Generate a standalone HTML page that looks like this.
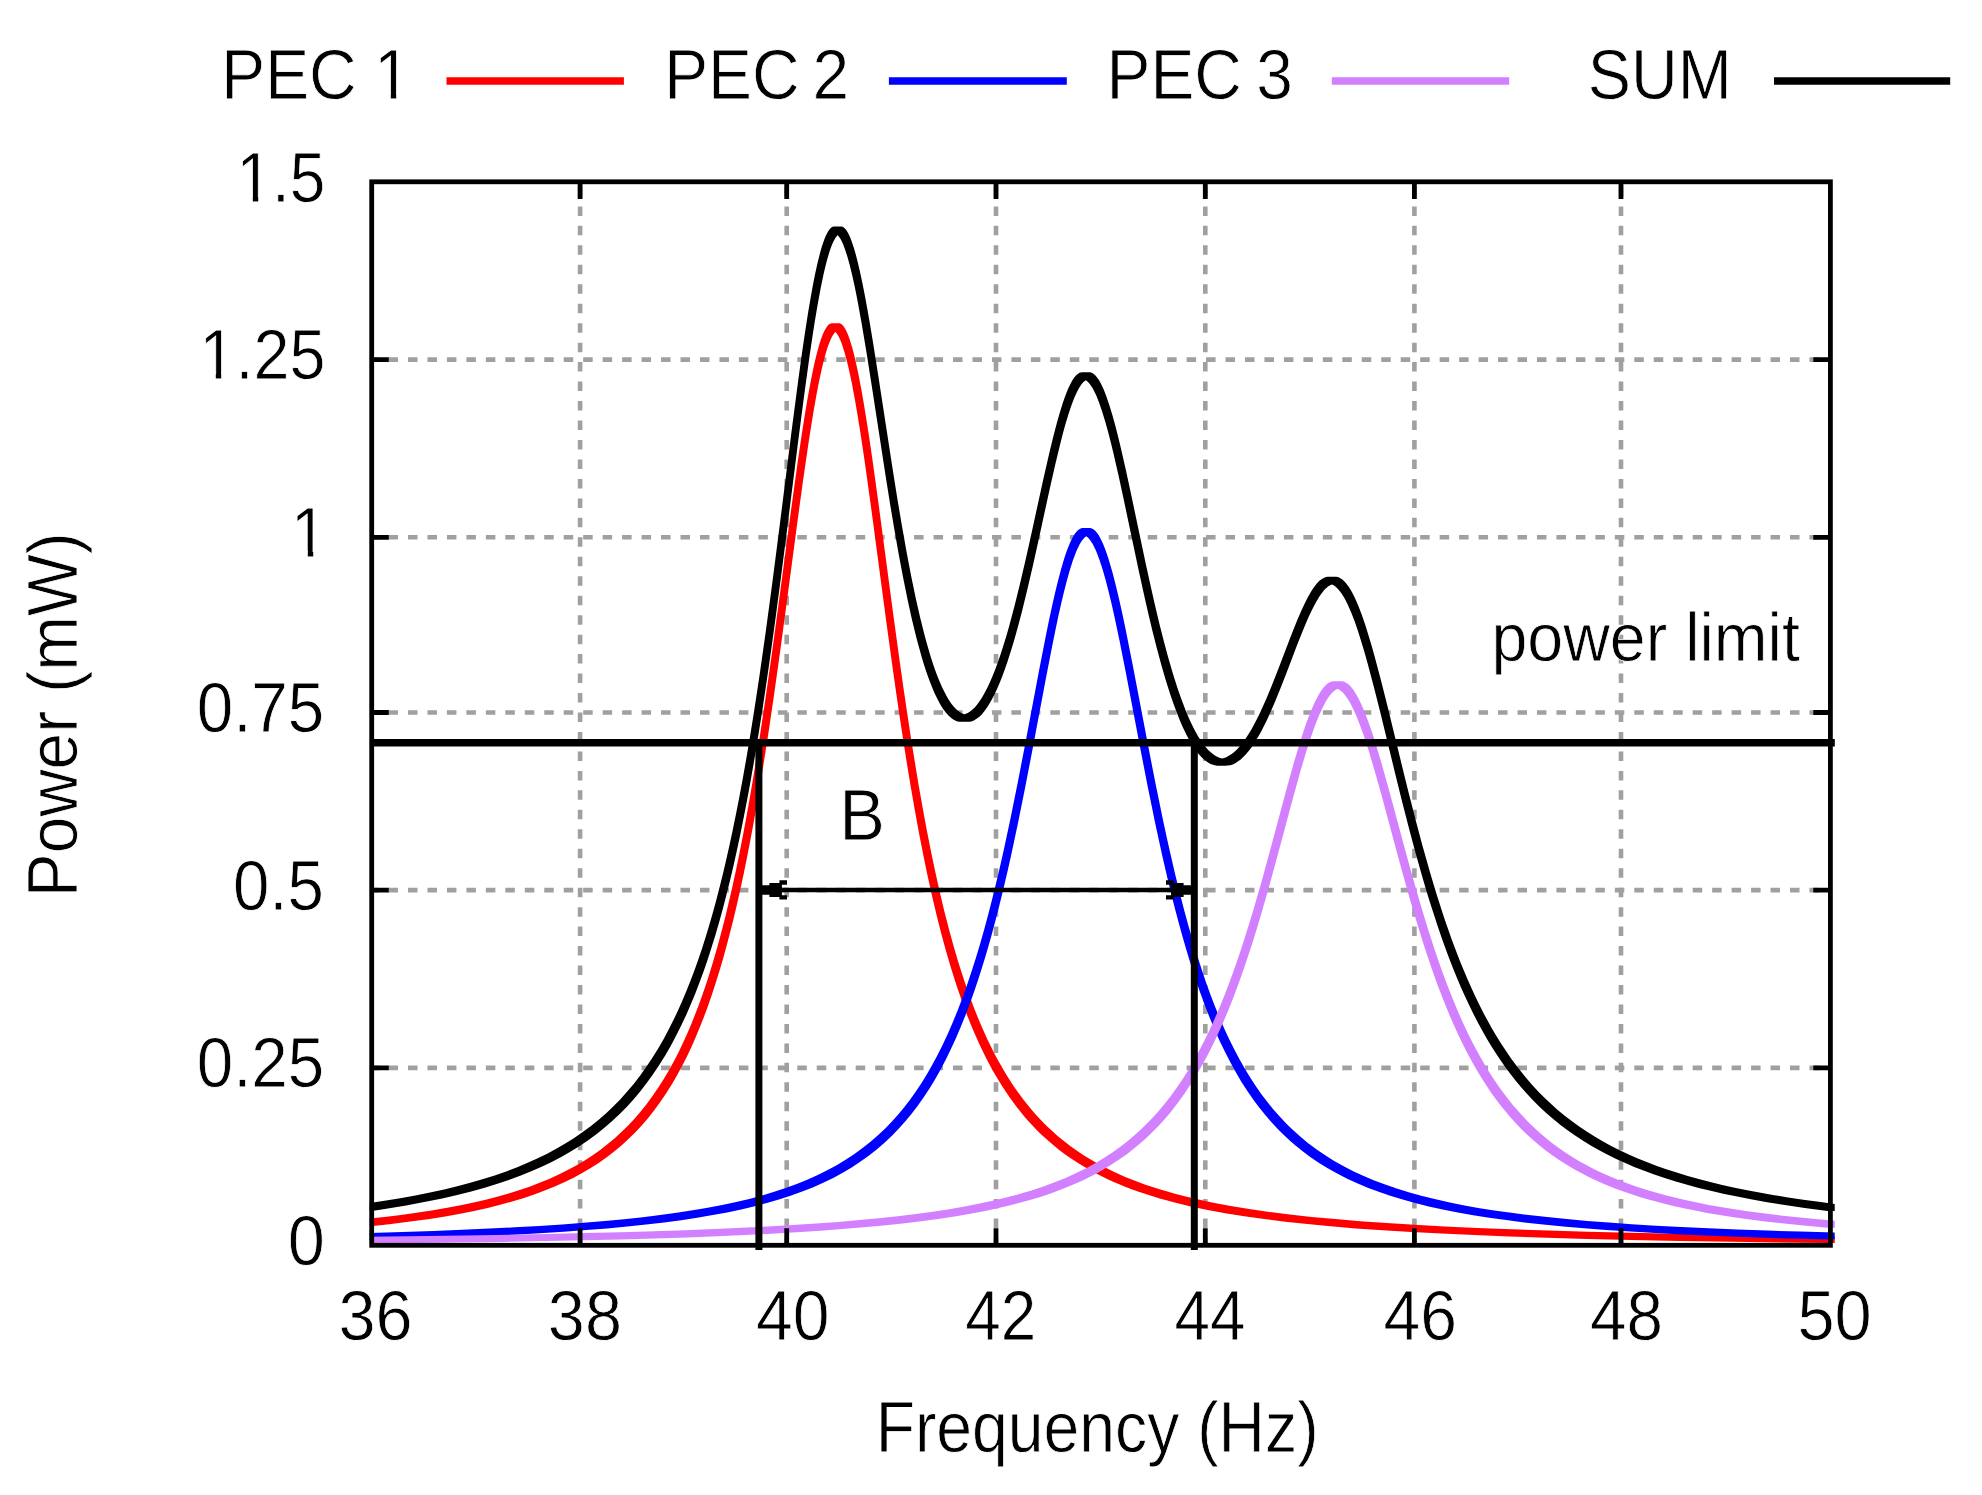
<!DOCTYPE html>
<html><head><meta charset="utf-8"><title>Power vs Frequency</title>
<style>html,body{margin:0;padding:0;background:#fff}body{width:1982px;height:1495px;overflow:hidden}</style></head>
<body>
<svg width="1982" height="1495" viewBox="0 0 1982 1495" style="display:block">
<rect x="0" y="0" width="1982" height="1495" fill="#fff"/>
<g stroke="#a0a0a0" stroke-width="4.6" fill="none" stroke-dasharray="9.5 9.965">
<path d="M580.1 181.8V1245.3" stroke-dashoffset="14.330"/>
<path d="M786.7 181.8V1245.3" stroke-dashoffset="14.330"/>
<path d="M996.0 181.8V1245.3" stroke-dashoffset="14.330"/>
<path d="M1205.3 181.8V1245.3" stroke-dashoffset="14.330"/>
<path d="M1414.4 181.8V1245.3" stroke-dashoffset="14.330"/>
<path d="M1621.0 181.8V1245.3" stroke-dashoffset="14.330"/>
<path d="M371.7 1067.9H1830.4" stroke-dashoffset="2.630"/>
<path d="M371.7 890.1H1830.4" stroke-dashoffset="2.630"/>
<path d="M371.7 712.5H1830.4" stroke-dashoffset="2.630"/>
<path d="M371.7 537.3H1830.4" stroke-dashoffset="2.630"/>
<path d="M371.7 359.6H1830.4" stroke-dashoffset="2.630"/>
</g>
<path d="M369.7 1218.6L386.7 1216.7L402.7 1214.7L418.2 1212.5L433.2 1210.2L447.2 1207.8L460.7 1205.2L473.7 1202.5L485.7 1199.7L497.2 1196.7L508.7 1193.5L519.7 1190.0L530.2 1186.4L540.2 1182.6L549.7 1178.7L558.7 1174.6L567.7 1170.1L576.2 1165.5L584.7 1160.4L592.7 1155.2L600.2 1149.9L607.7 1144.1L614.7 1138.2L621.7 1131.8L628.2 1125.4L634.7 1118.4L640.7 1111.5L646.7 1104.0L652.7 1095.8L658.7 1087.0L664.2 1078.3L669.7 1068.9L674.7 1059.7L678.7 1051.9L682.7 1043.6L686.7 1034.8L690.7 1025.5L694.7 1015.6L698.2 1006.5L702.2 995.5L705.7 985.2L709.2 974.5L712.7 963.1L716.2 951.1L719.2 940.3L722.7 927.1L725.7 915.2L729.2 900.6L732.2 887.5L735.7 871.4L739.2 854.5L742.7 836.7L745.7 820.7L749.2 801.2L752.2 783.8L755.7 762.6L759.2 740.5L765.2 700.6L771.7 654.8L777.7 610.6L791.2 509.0L797.7 461.9L801.2 438.0L804.2 418.7L807.2 400.6L810.2 383.9L813.7 366.6L815.7 357.9L817.2 351.9L819.2 344.8L820.7 340.0L822.7 334.6L824.2 331.2L825.7 328.4L827.2 326.2L828.7 324.6L829.7 323.9L830.7 323.4L831.7 323.2L838.7 323.2L839.7 323.3L840.2 323.5L841.2 324.0L842.7 325.3L844.2 327.2L845.2 328.8L846.7 331.8L848.2 335.3L849.7 339.5L852.2 347.6L853.7 353.2L855.2 359.4L858.2 373.1L861.2 388.7L863.7 402.9L866.2 418.2L869.2 437.6L872.2 458.0L878.2 501.2L892.7 610.2L899.7 661.4L903.7 689.5L907.2 713.3L910.7 736.3L914.2 758.3L918.7 785.4L922.7 808.1L926.7 829.7L931.2 852.5L935.2 871.6L939.7 891.8L944.2 910.7L948.7 928.3L953.7 946.5L958.7 963.4L964.2 980.6L969.7 996.4L975.2 1010.9L978.2 1018.4L981.2 1025.5L987.2 1038.9L993.2 1051.2L996.2 1056.9L999.7 1063.3L1002.7 1068.6L1006.2 1074.5L1009.7 1080.1L1013.2 1085.4L1016.7 1090.5L1020.2 1095.3L1023.7 1100.0L1027.7 1105.0L1031.2 1109.3L1035.2 1113.9L1039.2 1118.2L1043.2 1122.4L1047.2 1126.4L1051.7 1130.6L1056.2 1134.7L1060.7 1138.5L1065.2 1142.1L1070.2 1145.9L1075.2 1149.5L1080.2 1152.9L1085.2 1156.2L1090.7 1159.5L1096.2 1162.7L1101.7 1165.7L1107.2 1168.6L1113.2 1171.5L1119.2 1174.3L1125.2 1176.9L1131.7 1179.5L1138.2 1182.0L1144.7 1184.4L1151.7 1186.8L1158.7 1189.0L1165.7 1191.1L1173.2 1193.3L1180.7 1195.3L1196.2 1199.0L1213.2 1202.7L1230.7 1205.9L1249.2 1209.0L1269.2 1211.9L1289.7 1214.5L1311.7 1216.9L1335.2 1219.1L1360.2 1221.2L1386.7 1223.1L1414.7 1224.8L1444.7 1226.5L1477.2 1228.0L1511.7 1229.3L1548.2 1230.6L1587.7 1231.7L1630.2 1232.7L1675.7 1233.7L1724.7 1234.6L1777.7 1235.3L1834.7 1236.1L1834.7 1243.1L1827.7 1243.1L1800.2 1242.7L1732.2 1241.8L1679.7 1240.9L1630.7 1239.9L1587.2 1238.9L1546.7 1237.7L1509.2 1236.5L1474.2 1235.1L1441.7 1233.6L1411.2 1232.0L1382.7 1230.3L1355.7 1228.4L1330.7 1226.3L1307.2 1224.1L1285.2 1221.7L1264.2 1219.1L1244.2 1216.3L1225.2 1213.2L1207.7 1210.0L1190.7 1206.4L1174.7 1202.5L1167.2 1200.5L1159.7 1198.4L1152.7 1196.3L1145.7 1194.1L1138.7 1191.7L1132.2 1189.4L1125.7 1186.9L1119.2 1184.3L1113.2 1181.7L1107.2 1179.0L1101.2 1176.1L1095.7 1173.3L1090.2 1170.3L1084.7 1167.1L1079.2 1163.8L1074.2 1160.6L1069.2 1157.2L1064.2 1153.7L1059.2 1149.9L1054.7 1146.3L1049.7 1142.1L1045.2 1138.1L1040.7 1133.9L1036.7 1129.9L1032.7 1125.8L1028.7 1121.4L1024.7 1116.9L1020.7 1112.0L1016.7 1107.0L1013.2 1102.3L1009.2 1096.8L1005.7 1091.6L1002.2 1086.3L998.7 1080.6L995.2 1074.7L992.2 1069.4L988.7 1063.0L985.7 1057.2L982.2 1050.1L979.2 1043.8L973.2 1030.2L970.2 1022.9L967.2 1015.4L961.7 1000.6L956.2 984.6L950.7 967.1L945.7 950.0L940.7 931.5L936.2 913.6L931.7 894.4L927.2 874.0L923.2 854.6L918.7 831.4L914.7 809.6L910.7 786.5L906.7 762.2L903.2 740.0L899.7 717.0L896.2 693.1L892.2 664.8L885.7 617.2L871.7 511.9L865.7 468.5L862.7 447.9L860.2 431.5L857.7 415.9L855.2 401.3L852.2 385.1L849.7 373.0L847.2 362.2L844.7 352.9L842.2 345.0L840.7 341.1L839.7 338.8L838.2 335.8L837.2 334.2L835.7 332.3L835.2 332.1L834.2 333.2L832.7 335.4L831.7 337.2L830.2 340.4L829.2 342.9L827.7 347.0L826.2 351.8L824.7 357.0L822.2 367.0L819.2 380.7L816.7 393.6L813.7 410.5L811.2 425.7L808.7 441.7L803.2 479.5L797.7 519.7L785.7 610.2L780.2 650.9L774.2 693.8L768.7 731.2L762.2 772.7L756.2 808.2L753.2 825.0L750.2 841.1L747.2 856.5L743.7 873.7L740.2 890.0L736.7 905.5L733.2 920.2L729.7 934.1L726.2 947.3L722.7 959.9L719.2 971.8L715.2 984.6L711.7 995.2L707.7 1006.7L703.7 1017.5L699.7 1027.6L695.7 1037.2L691.2 1047.4L686.7 1056.9L682.2 1065.8L677.2 1075.0L671.7 1084.5L666.2 1093.3L660.2 1102.1L654.2 1110.3L648.2 1117.9L641.7 1125.4L635.2 1132.4L628.7 1138.8L621.7 1145.2L614.2 1151.5L606.7 1157.3L598.7 1162.9L590.7 1168.0L582.2 1173.1L573.2 1177.9L564.2 1182.3L554.7 1186.6L544.7 1190.6L534.2 1194.5L523.2 1198.2L512.2 1201.5L500.2 1204.8L487.7 1207.9L474.2 1210.9L460.2 1213.7L445.2 1216.4L429.7 1218.9L410.2 1221.6L389.2 1224.2L375.2 1225.7L369.7 1225.7Z" fill="#ff0000"/>
<path d="M369.7 1232.9L402.2 1231.9L433.2 1230.9L462.2 1229.8L489.2 1228.6L514.7 1227.3L539.2 1225.9L562.2 1224.4L583.7 1222.8L604.7 1221.0L624.2 1219.2L642.7 1217.2L660.2 1215.0L676.7 1212.8L692.7 1210.3L707.7 1207.8L722.2 1205.0L736.2 1202.0L749.2 1198.9L762.2 1195.4L774.2 1191.8L785.7 1188.1L796.7 1184.0L807.2 1179.8L817.2 1175.3L826.7 1170.6L836.2 1165.5L845.2 1160.1L853.7 1154.5L862.2 1148.3L870.2 1142.0L877.7 1135.5L885.2 1128.4L891.7 1121.7L898.2 1114.4L904.2 1107.2L910.2 1099.4L916.2 1091.0L921.7 1082.7L927.2 1073.7L932.7 1064.1L937.7 1054.8L942.7 1044.7L947.7 1034.0L952.7 1022.5L957.7 1010.2L962.2 998.4L966.7 985.9L971.2 972.6L975.7 958.5L979.7 945.2L983.7 931.2L987.7 916.5L991.7 901.0L995.7 884.8L999.7 867.9L1003.7 850.2L1010.7 817.5L1018.2 780.3L1025.2 744.0L1039.2 669.7L1045.7 636.4L1049.2 619.3L1052.2 605.4L1055.2 592.2L1057.7 581.9L1061.2 568.7L1064.2 558.6L1066.2 552.6L1067.7 548.5L1069.2 544.7L1070.7 541.3L1072.2 538.3L1073.7 535.6L1075.2 533.3L1076.7 531.5L1078.2 530.0L1079.7 529.0L1081.2 528.3L1082.7 528.1L1090.2 528.1L1091.2 528.3L1092.2 528.7L1093.7 529.5L1095.2 530.8L1096.7 532.5L1098.2 534.6L1099.7 537.1L1101.7 540.9L1103.2 544.3L1105.2 549.3L1106.7 553.5L1108.7 559.5L1110.7 566.2L1112.7 573.3L1115.7 584.9L1118.7 597.5L1122.2 613.1L1125.7 629.8L1132.7 664.9L1148.2 746.1L1155.2 781.9L1163.2 820.9L1167.2 839.4L1170.7 855.1L1175.2 874.4L1179.2 890.8L1183.2 906.4L1187.7 923.2L1192.2 939.0L1196.7 954.0L1201.2 968.1L1205.7 981.4L1210.2 993.9L1214.7 1005.7L1219.2 1016.8L1224.2 1028.4L1229.2 1039.2L1234.2 1049.3L1239.2 1058.8L1244.7 1068.5L1250.2 1077.6L1255.7 1086.0L1261.2 1093.9L1267.2 1101.8L1273.2 1109.2L1279.7 1116.6L1286.2 1123.5L1292.7 1129.8L1300.2 1136.6L1308.2 1143.2L1316.7 1149.5L1325.2 1155.3L1334.2 1160.9L1343.7 1166.3L1353.7 1171.4L1363.7 1176.1L1374.2 1180.5L1385.2 1184.6L1396.7 1188.6L1408.7 1192.3L1421.2 1195.8L1434.7 1199.1L1448.7 1202.3L1463.2 1205.2L1478.2 1207.9L1494.2 1210.4L1511.2 1212.8L1528.7 1215.1L1547.2 1217.1L1566.7 1219.1L1587.2 1220.9L1608.7 1222.6L1631.7 1224.2L1655.7 1225.7L1681.2 1227.0L1708.7 1228.3L1737.2 1229.5L1767.7 1230.6L1800.2 1231.6L1834.7 1232.5L1834.7 1239.6L1827.7 1239.5L1779.2 1238.2L1743.7 1237.0L1710.7 1235.7L1682.2 1234.4L1655.2 1233.0L1630.2 1231.5L1606.2 1229.9L1584.2 1228.2L1563.2 1226.4L1543.2 1224.5L1524.2 1222.4L1506.2 1220.1L1489.2 1217.7L1473.2 1215.2L1457.7 1212.5L1442.7 1209.5L1428.7 1206.4L1415.2 1203.0L1402.7 1199.6L1390.2 1195.7L1378.7 1191.8L1367.7 1187.7L1357.2 1183.3L1347.2 1178.7L1337.2 1173.6L1327.7 1168.2L1318.7 1162.7L1310.2 1156.9L1301.7 1150.6L1293.7 1144.0L1289.7 1140.5L1285.7 1136.8L1278.7 1130.0L1272.2 1123.1L1265.7 1115.6L1259.2 1107.5L1253.2 1099.5L1247.2 1090.8L1241.2 1081.4L1235.7 1072.1L1230.2 1062.1L1224.7 1051.3L1219.7 1040.9L1214.7 1029.7L1209.7 1017.7L1204.7 1004.9L1199.7 991.2L1195.2 978.1L1190.7 964.2L1186.7 951.1L1182.7 937.3L1178.7 922.8L1174.7 907.7L1170.7 891.7L1166.7 875.1L1162.2 855.4L1155.2 823.2L1147.7 786.4L1140.7 750.5L1126.2 674.5L1119.7 641.6L1116.7 627.2L1113.7 613.3L1111.2 602.3L1108.7 591.9L1105.7 580.3L1102.7 569.8L1099.7 560.5L1097.2 553.7L1095.7 550.1L1094.2 546.9L1092.7 544.1L1091.7 542.4L1090.2 540.2L1088.7 538.3L1087.2 536.9L1086.2 536.3L1085.2 537.0L1083.7 538.5L1082.2 540.3L1080.7 542.6L1079.7 544.3L1078.2 547.2L1076.7 550.5L1075.2 554.2L1072.7 561.0L1069.7 570.5L1066.7 581.2L1063.7 592.9L1061.2 603.5L1058.7 614.6L1055.7 628.7L1052.7 643.4L1046.2 676.7L1032.2 751.0L1025.2 787.3L1018.2 822.1L1011.2 854.9L1007.2 872.7L1003.2 889.8L999.2 906.1L995.2 921.6L991.2 936.4L987.2 950.5L983.2 963.8L979.2 976.5L974.7 990.0L970.2 1002.7L965.7 1014.7L960.7 1027.1L955.7 1038.8L950.7 1049.6L945.7 1059.8L940.2 1070.2L934.7 1079.9L929.2 1088.9L923.2 1098.0L917.2 1106.4L911.2 1114.2L904.7 1122.0L898.2 1129.2L891.7 1135.9L884.2 1142.9L876.7 1149.4L868.7 1155.7L860.2 1161.8L851.7 1167.4L842.7 1172.7L833.2 1177.9L823.2 1182.8L812.7 1187.4L802.2 1191.6L791.2 1195.6L779.7 1199.3L767.7 1202.8L754.7 1206.3L741.2 1209.4L727.2 1212.4L712.7 1215.1L697.2 1217.7L681.2 1220.2L664.2 1222.4L646.2 1224.6L627.2 1226.6L607.2 1228.4L586.2 1230.1L563.7 1231.8L539.7 1233.3L514.7 1234.7L487.7 1236.0L457.2 1237.3L424.2 1238.5L375.7 1239.9L369.7 1239.9Z" fill="#0000ff"/>
<path d="M369.7 1236.7L464.7 1235.4L547.7 1234.0L585.2 1233.1L620.7 1232.2L653.7 1231.2L684.7 1230.2L714.2 1229.1L741.7 1227.8L767.7 1226.5L792.7 1225.1L816.2 1223.5L838.2 1221.9L859.2 1220.1L878.7 1218.3L897.7 1216.2L915.7 1214.0L932.7 1211.7L949.2 1209.2L964.7 1206.5L979.7 1203.6L993.7 1200.5L1007.2 1197.3L1020.2 1193.8L1032.2 1190.2L1044.2 1186.2L1055.2 1182.1L1065.7 1177.9L1076.2 1173.1L1086.2 1168.2L1095.7 1162.9L1104.2 1157.8L1112.7 1152.2L1120.7 1146.5L1128.7 1140.2L1136.2 1133.8L1143.2 1127.3L1150.2 1120.3L1157.2 1112.7L1163.7 1105.0L1170.2 1096.8L1176.2 1088.5L1182.2 1079.7L1188.2 1070.2L1194.2 1059.9L1199.7 1049.8L1205.2 1039.1L1210.2 1028.7L1215.2 1017.6L1220.2 1005.9L1225.2 993.5L1230.2 980.3L1235.2 966.5L1239.7 953.3L1244.7 938.1L1248.7 925.3L1253.2 910.4L1261.7 880.9L1269.7 851.8L1286.2 790.3L1293.7 763.3L1297.2 751.4L1300.7 740.0L1303.7 730.8L1306.7 722.1L1310.7 711.6L1314.2 703.5L1316.2 699.4L1317.7 696.5L1319.7 693.1L1321.2 690.8L1323.2 688.1L1324.7 686.3L1326.2 684.8L1327.7 683.6L1329.7 682.3L1331.2 681.7L1332.7 681.3L1334.2 681.2L1341.2 681.2L1342.2 681.3L1343.7 681.6L1345.2 682.2L1347.2 683.4L1348.7 684.6L1350.7 686.6L1352.7 689.0L1354.7 691.9L1356.7 695.2L1358.7 698.9L1360.7 703.0L1362.7 707.4L1364.7 712.2L1367.2 718.7L1370.7 728.5L1374.2 739.1L1377.7 750.4L1381.7 764.0L1389.2 790.8L1404.7 848.3L1411.7 873.8L1419.2 900.1L1426.7 925.0L1430.7 937.6L1434.7 949.8L1438.7 961.5L1442.2 971.4L1446.2 982.2L1450.2 992.6L1454.2 1002.5L1458.2 1012.0L1461.7 1019.9L1465.2 1027.6L1468.7 1034.9L1472.7 1042.9L1476.2 1049.5L1480.2 1056.8L1484.2 1063.8L1488.2 1070.4L1492.2 1076.7L1496.2 1082.8L1500.2 1088.5L1504.7 1094.6L1508.7 1099.8L1513.2 1105.4L1517.7 1110.6L1522.2 1115.6L1527.7 1121.4L1533.7 1127.2L1539.7 1132.7L1546.2 1138.3L1552.7 1143.4L1559.2 1148.2L1565.7 1152.7L1572.7 1157.2L1579.7 1161.4L1587.2 1165.6L1594.7 1169.5L1602.7 1173.3L1610.7 1176.8L1619.2 1180.3L1627.7 1183.5L1636.7 1186.7L1646.2 1189.7L1655.7 1192.6L1665.7 1195.3L1675.7 1197.8L1686.2 1200.3L1697.2 1202.6L1708.7 1204.9L1720.7 1207.0L1733.2 1209.1L1745.7 1211.0L1759.2 1212.8L1773.2 1214.6L1787.7 1216.2L1802.7 1217.8L1818.2 1219.3L1834.7 1220.7L1834.7 1227.7L1828.2 1227.7L1824.7 1227.4L1801.2 1225.3L1779.2 1223.1L1763.2 1221.2L1748.2 1219.3L1733.7 1217.2L1719.7 1215.0L1707.2 1212.9L1695.2 1210.6L1683.7 1208.3L1672.2 1205.7L1661.7 1203.1L1651.2 1200.3L1641.2 1197.4L1631.7 1194.3L1622.7 1191.2L1613.7 1187.9L1605.2 1184.5L1596.7 1180.7L1588.7 1177.0L1581.2 1173.1L1573.7 1169.0L1566.2 1164.5L1559.2 1160.1L1552.2 1155.2L1545.7 1150.4L1539.2 1145.3L1532.7 1139.7L1526.7 1134.2L1520.7 1128.4L1514.7 1122.1L1509.7 1116.5L1505.2 1111.1L1500.2 1104.9L1495.7 1098.9L1491.2 1092.7L1486.7 1086.0L1482.2 1079.0L1478.2 1072.5L1473.7 1064.7L1469.7 1057.5L1465.7 1049.9L1461.7 1041.9L1457.7 1033.5L1453.7 1024.7L1449.7 1015.5L1446.2 1007.1L1442.2 997.0L1438.7 987.9L1435.2 978.4L1431.7 968.5L1424.7 947.7L1417.2 923.8L1410.7 901.9L1403.7 877.2L1397.2 853.5L1382.7 799.6L1376.2 776.2L1369.7 754.1L1366.7 744.5L1363.7 735.5L1360.2 725.7L1356.7 716.8L1353.2 708.9L1350.2 703.1L1348.2 699.7L1346.7 697.4L1345.2 695.4L1343.7 693.6L1342.2 692.1L1340.7 690.8L1339.2 689.7L1337.7 689.0L1337.2 689.1L1336.7 689.3L1334.7 690.6L1333.2 691.8L1331.7 693.3L1330.2 695.1L1328.7 697.1L1327.2 699.3L1325.7 701.8L1322.7 707.4L1319.2 715.0L1316.2 722.4L1312.7 732.0L1309.7 740.8L1306.7 750.2L1303.7 760.1L1300.2 772.1L1293.2 797.3L1276.7 858.8L1268.7 887.9L1260.2 917.4L1256.2 930.7L1252.2 943.5L1247.2 958.8L1242.7 972.0L1238.2 984.6L1233.2 997.9L1228.2 1010.5L1223.2 1022.3L1218.2 1033.5L1213.2 1044.1L1207.7 1054.9L1202.2 1065.1L1196.2 1075.5L1190.2 1085.1L1184.2 1094.1L1177.7 1103.1L1171.2 1111.4L1164.2 1119.7L1157.2 1127.3L1150.2 1134.3L1142.7 1141.3L1135.2 1147.6L1127.2 1153.9L1119.2 1159.6L1110.7 1165.1L1102.2 1170.2L1092.7 1175.4L1082.7 1180.4L1072.2 1185.1L1061.7 1189.3L1050.7 1193.4L1038.7 1197.4L1026.2 1201.1L1013.2 1204.5L999.7 1207.8L985.2 1210.9L970.2 1213.8L954.7 1216.4L938.2 1218.9L921.2 1221.2L902.7 1223.4L883.7 1225.5L863.7 1227.3L842.7 1229.1L820.2 1230.7L796.7 1232.3L771.7 1233.7L745.2 1235.0L717.2 1236.2L687.2 1237.4L655.2 1238.4L621.2 1239.4L584.7 1240.3L546.2 1241.1L503.2 1241.9L456.7 1242.6L396.7 1243.4L369.7 1243.7Z" fill="#d280ff"/>
<path d="M369.7 1203.1L386.2 1200.6L401.7 1198.0L416.7 1195.2L431.2 1192.3L445.2 1189.2L458.2 1186.0L471.2 1182.5L483.2 1179.0L494.7 1175.4L506.2 1171.4L517.2 1167.2L527.7 1162.8L537.7 1158.3L547.2 1153.7L556.7 1148.6L565.7 1143.3L574.2 1138.0L582.7 1132.1L590.7 1126.2L598.7 1119.7L606.2 1113.2L613.2 1106.5L620.2 1099.4L627.2 1091.6L633.7 1083.9L640.2 1075.5L646.2 1067.1L652.2 1058.1L658.2 1048.4L663.7 1038.9L669.2 1028.6L674.2 1018.6L678.2 1010.1L682.2 1001.1L686.2 991.6L690.2 981.6L694.2 971.0L697.7 961.2L701.7 949.4L705.2 938.5L708.7 927.0L712.2 914.9L715.7 902.2L719.2 888.8L722.7 874.7L725.7 862.1L729.2 846.6L732.2 832.6L735.7 815.6L739.2 797.7L742.7 778.9L746.2 759.2L749.7 738.5L752.7 720.1L756.2 697.6L759.7 674.3L765.7 632.1L772.2 583.8L778.7 533.3L792.2 426.2L798.7 376.7L802.2 351.6L805.2 331.2L808.2 312.0L811.2 294.4L813.2 283.6L815.2 273.6L817.2 264.4L818.7 258.2L820.7 250.6L822.2 245.6L824.2 239.8L825.7 236.1L827.2 233.0L828.7 230.5L830.2 228.6L831.7 227.3L832.7 226.8L833.7 226.5L841.2 226.5L842.2 226.7L842.7 226.8L843.7 227.4L844.7 228.2L846.2 230.0L847.2 231.5L848.7 234.2L850.2 237.5L851.7 241.4L854.2 249.0L855.7 254.2L857.2 259.9L859.7 270.4L862.7 284.5L864.7 294.7L867.2 308.2L869.7 322.5L872.7 340.6L878.2 375.3L892.7 469.6L897.2 497.7L901.7 524.6L906.7 552.7L911.2 576.2L915.7 597.9L920.2 617.8L924.2 633.8L926.2 641.3L928.7 650.1L930.7 656.7L933.2 664.4L935.2 670.2L937.7 676.9L939.7 681.8L942.2 687.5L944.2 691.6L946.7 696.3L948.7 699.7L951.2 703.4L953.2 706.0L955.7 708.7L957.7 710.6L959.7 712.1L961.7 713.2L964.2 714.2L964.7 714.3L965.2 714.1L967.7 713.0L969.7 711.8L972.2 709.8L974.7 707.4L977.2 704.5L979.7 701.1L982.2 697.2L984.7 692.8L987.2 688.0L989.7 682.7L992.7 675.8L995.2 669.4L998.2 661.3L1000.7 654.0L1003.7 644.6L1006.2 636.4L1009.2 625.9L1014.7 605.3L1019.7 585.1L1025.2 561.6L1030.7 536.9L1043.2 479.7L1049.7 451.3L1053.2 436.9L1056.7 423.5L1059.7 412.9L1062.7 403.3L1064.7 397.5L1066.2 393.5L1068.2 388.6L1069.7 385.4L1071.7 381.6L1073.2 379.1L1074.7 377.0L1076.2 375.3L1077.7 374.0L1078.7 373.3L1080.2 372.6L1081.2 372.4L1082.2 372.3L1089.7 372.3L1091.2 372.6L1092.7 373.3L1093.7 373.9L1095.2 375.2L1096.7 376.9L1098.2 379.0L1099.2 380.6L1100.7 383.2L1102.2 386.3L1103.7 389.6L1106.2 395.9L1109.2 404.7L1112.2 414.5L1115.2 425.3L1117.7 435.1L1120.2 445.3L1125.7 469.3L1131.2 494.8L1145.7 563.5L1150.2 584.1L1154.7 604.0L1159.2 622.9L1163.7 640.8L1168.2 657.5L1172.7 673.0L1177.2 687.3L1181.2 698.8L1185.2 709.3L1187.2 714.2L1189.7 720.0L1193.7 728.3L1195.7 732.0L1198.2 736.4L1200.2 739.6L1202.2 742.6L1204.2 745.2L1206.7 748.3L1208.2 749.9L1210.2 751.8L1212.2 753.5L1214.2 755.0L1216.2 756.2L1218.2 757.2L1220.2 757.9L1222.2 758.4L1224.2 757.9L1226.7 756.9L1229.2 755.6L1231.7 754.0L1234.2 752.0L1236.7 749.7L1239.2 747.0L1241.7 744.0L1244.2 740.7L1246.7 737.0L1249.2 733.1L1251.7 728.9L1254.2 724.3L1256.7 719.5L1259.2 714.5L1262.2 708.1L1267.2 696.7L1272.7 683.3L1278.2 669.2L1291.2 635.2L1297.7 619.0L1301.2 610.9L1304.7 603.4L1307.7 597.5L1310.7 592.2L1312.7 589.1L1314.2 586.9L1316.2 584.3L1317.7 582.6L1319.7 580.6L1321.2 579.4L1322.7 578.4L1324.2 577.7L1326.2 577.0L1327.7 576.8L1336.2 576.8L1337.7 577.1L1339.2 577.6L1340.7 578.4L1341.7 579.1L1343.2 580.3L1344.7 581.7L1346.2 583.4L1348.2 586.0L1349.7 588.3L1351.2 590.8L1352.7 593.6L1354.7 597.6L1358.2 605.5L1361.7 614.6L1365.2 624.8L1368.7 635.9L1371.7 646.0L1374.7 656.7L1381.2 681.2L1387.7 707.1L1402.2 766.7L1408.7 792.9L1415.7 820.3L1422.2 844.7L1429.7 871.3L1433.7 884.8L1437.2 896.2L1444.2 917.9L1447.7 928.1L1451.7 939.4L1455.2 948.8L1459.2 959.2L1463.2 969.1L1467.2 978.6L1471.2 987.6L1475.2 996.2L1479.2 1004.5L1483.7 1013.4L1487.7 1020.8L1492.2 1028.9L1496.7 1036.5L1501.2 1043.7L1505.7 1050.6L1510.7 1057.9L1515.2 1064.1L1520.2 1070.6L1526.2 1078.0L1532.2 1084.9L1538.2 1091.4L1544.7 1098.0L1551.2 1104.1L1557.7 1109.9L1564.7 1115.7L1571.7 1121.1L1579.2 1126.6L1586.7 1131.6L1594.2 1136.3L1602.2 1141.0L1610.7 1145.7L1619.2 1150.0L1628.2 1154.3L1637.2 1158.2L1646.7 1162.1L1656.2 1165.7L1666.2 1169.2L1676.7 1172.6L1687.7 1175.9L1698.7 1179.0L1710.2 1182.0L1722.2 1184.9L1734.7 1187.7L1747.2 1190.2L1760.7 1192.8L1774.2 1195.2L1788.2 1197.4L1803.2 1199.7L1818.7 1201.8L1834.7 1203.9L1834.7 1210.9L1827.7 1210.9L1804.7 1207.9L1783.2 1204.7L1767.2 1202.2L1752.2 1199.5L1737.2 1196.6L1723.2 1193.7L1710.7 1190.8L1698.7 1187.9L1687.2 1184.8L1675.7 1181.5L1664.7 1178.0L1654.2 1174.5L1644.2 1170.8L1634.2 1166.9L1624.7 1162.8L1615.7 1158.7L1607.2 1154.5L1598.7 1150.0L1590.7 1145.4L1582.7 1140.5L1574.7 1135.3L1567.2 1130.0L1560.2 1124.7L1553.2 1119.0L1546.2 1112.9L1539.7 1106.9L1533.2 1100.4L1526.7 1093.5L1520.7 1086.7L1514.7 1079.5L1509.7 1073.1L1505.2 1067.0L1500.2 1059.8L1495.7 1053.1L1491.2 1045.9L1486.7 1038.4L1482.2 1030.6L1477.7 1022.3L1473.2 1013.5L1469.2 1005.3L1465.2 996.8L1461.2 987.9L1457.2 978.5L1453.2 968.7L1449.2 958.4L1445.2 947.7L1441.2 936.5L1437.7 926.3L1430.7 904.8L1427.2 893.5L1423.2 880.0L1415.7 853.5L1409.2 829.3L1402.2 801.9L1395.2 773.7L1380.7 714.1L1374.2 688.2L1367.7 663.7L1364.7 653.0L1361.7 642.9L1358.2 631.8L1354.7 621.6L1351.2 612.5L1347.7 604.6L1345.7 600.6L1344.2 597.8L1342.7 595.3L1341.2 593.0L1339.2 590.4L1337.7 588.7L1336.2 587.3L1334.7 586.1L1333.2 585.1L1331.7 584.5L1330.2 585.2L1328.7 586.1L1327.2 587.2L1325.7 588.6L1324.2 590.1L1322.7 591.9L1319.7 596.1L1316.7 600.9L1313.7 606.4L1311.2 611.4L1308.7 616.8L1305.7 623.7L1302.7 630.9L1297.2 644.8L1285.7 674.9L1280.7 687.7L1275.2 701.3L1270.2 712.8L1267.2 719.4L1264.7 724.5L1261.7 730.4L1259.2 735.0L1256.2 740.1L1253.7 744.0L1251.2 747.7L1248.7 751.0L1245.7 754.5L1243.2 757.1L1240.7 759.4L1238.2 761.3L1235.2 763.2L1232.7 764.4L1230.2 765.2L1227.7 765.6L1225.7 765.7L1217.2 765.7L1214.7 765.3L1212.2 764.6L1210.7 764.0L1209.2 763.2L1206.2 761.3L1203.2 758.8L1200.2 755.8L1197.7 752.9L1195.7 750.2L1193.2 746.6L1191.2 743.4L1188.7 739.0L1186.7 735.3L1182.7 727.0L1180.2 721.2L1178.2 716.3L1174.2 705.8L1170.2 694.3L1165.7 680.0L1161.2 664.5L1156.7 647.8L1152.2 629.9L1147.7 611.0L1143.2 591.1L1138.7 570.5L1124.2 501.8L1118.7 476.3L1113.2 452.3L1110.7 442.1L1108.2 432.3L1105.2 421.5L1102.2 411.7L1099.2 402.9L1096.7 396.6L1095.2 393.3L1093.7 390.2L1092.2 387.6L1091.2 386.0L1089.7 383.9L1088.7 382.8L1087.2 381.3L1086.2 380.6L1085.7 380.3L1084.7 381.0L1083.2 382.3L1081.7 384.0L1080.7 385.4L1079.2 387.7L1076.7 392.4L1074.2 398.0L1071.2 405.9L1068.7 413.4L1065.7 423.3L1063.2 432.3L1060.7 441.9L1055.2 464.7L1049.7 489.0L1038.2 541.7L1032.7 566.4L1027.2 590.1L1022.2 610.4L1019.2 621.9L1016.2 632.9L1013.2 643.4L1010.7 651.6L1007.7 661.0L1005.2 668.3L1002.2 676.4L999.7 682.8L996.7 689.7L993.7 696.0L990.7 701.6L987.7 706.6L984.7 710.8L981.7 714.4L980.2 715.9L978.7 717.3L976.2 719.1L974.2 720.3L972.7 720.9L971.2 721.4L969.7 721.7L968.2 721.8L961.2 721.8L959.2 721.7L957.7 721.4L956.2 720.9L953.7 719.7L951.2 718.0L948.7 715.7L946.2 713.0L943.7 709.7L941.2 705.9L939.2 702.4L936.7 697.6L934.7 693.4L932.2 687.6L930.2 682.6L927.7 675.8L925.2 668.4L922.7 660.4L920.7 653.6L918.2 644.6L916.2 637.0L911.7 618.4L907.7 600.3L903.2 578.1L898.7 554.2L894.2 528.6L890.2 504.7L885.7 476.6L871.7 385.5L866.7 353.7L861.7 323.7L857.2 299.1L854.7 286.6L852.2 275.2L849.7 264.9L847.2 256.0L844.7 248.4L843.2 244.5L842.2 242.3L840.7 239.3L839.7 237.7L838.7 236.3L837.7 235.2L837.2 235.6L836.7 236.2L835.2 238.3L833.7 241.0L832.2 244.3L831.2 246.8L829.7 251.1L828.2 255.9L826.7 261.3L825.2 267.2L823.7 273.6L820.7 288.0L817.7 304.2L814.7 322.1L812.2 338.2L809.7 355.1L804.2 394.9L798.2 441.1L786.2 536.4L780.7 579.3L774.7 624.5L769.2 664.0L762.7 707.9L756.7 745.5L753.7 763.3L750.2 783.2L747.2 799.4L743.7 817.6L740.2 834.9L736.7 851.3L733.2 866.9L729.7 881.7L726.2 895.8L722.7 909.2L719.2 921.9L715.2 935.7L711.2 948.6L707.2 960.9L703.2 972.4L699.2 983.3L695.2 993.7L690.7 1004.6L686.2 1014.9L681.7 1024.5L676.2 1035.6L670.7 1045.9L665.2 1055.4L659.2 1065.1L653.2 1074.1L646.7 1083.1L640.2 1091.5L633.7 1099.2L626.7 1106.9L619.7 1114.0L612.2 1121.1L604.7 1127.6L596.7 1134.0L588.2 1140.2L579.7 1146.0L570.7 1151.5L561.2 1157.0L551.7 1161.9L541.7 1166.7L531.2 1171.3L520.2 1175.8L508.7 1180.0L496.7 1184.0L484.7 1187.7L471.2 1191.4L457.2 1195.0L442.2 1198.4L426.7 1201.6L406.2 1205.4L384.7 1208.9L375.2 1210.4L369.7 1210.4Z" fill="#000000"/>
<g stroke="#000" stroke-width="4.8" fill="none">
<rect x="371.7" y="181.8" width="1458.70" height="1063.50"/>
<path d="M580.1 1245.3v-17.1M580.1 181.8v17.1M786.7 1245.3v-17.1M786.7 181.8v17.1M996.0 1245.3v-17.1M996.0 181.8v17.1M1205.3 1245.3v-17.1M1205.3 181.8v17.1M1414.4 1245.3v-17.1M1414.4 181.8v17.1M1621.0 1245.3v-17.1M1621.0 181.8v17.1M371.7 1067.9h17.1M1830.4 1067.9h-17.1M371.7 890.1h17.1M1830.4 890.1h-17.1M371.7 712.5h17.1M1830.4 712.5h-17.1M371.7 537.3h17.1M1830.4 537.3h-17.1M371.7 359.6h17.1M1830.4 359.6h-17.1"/>
</g>
<g stroke="#000" fill="none">
<path d="M371.7 742.7H1834.8" stroke-width="7.4"/>
<path d="M758.9 739.0V1250M1194.3 739.0V1250" stroke-width="7"/>
<path d="M762 890H1191" stroke-width="4.7"/>
</g>
<path d="M760.9 885.2H770.4V894.7H760.9ZM769.4 882.9H781.9V897.1H769.4ZM779.4 880.3H787.0V884.8H779.4ZM779.4 895.2H787.0V899.6H779.4ZM1182.6 885.2H1192.1V894.7H1182.6ZM1171.1 882.9H1183.6V897.1H1171.1ZM1166.0 880.3H1173.6V884.8H1166.0ZM1166.0 895.2H1173.6V899.6H1166.0Z" fill="#000"/>
<g fill="none" stroke-width="7.4">
<path d="M446.5 81H623.9" stroke="#ff0000"/>
<path d="M888.9 81H1066.8" stroke="#0000ff"/>
<path d="M1331.8 81H1509.2" stroke="#d280ff"/>
<path d="M1774.0 81H1950.2" stroke="#000000"/>
</g>
<g font-family="Liberation Sans, Arial, Helvetica, sans-serif" font-size="100" fill="#000" stroke="#fff" stroke-width="1.1" vector-effect="non-scaling-stroke" style="vector-effect:non-scaling-stroke">
<text transform="translate(1587.76 99.30) scale(0.6474 0.6957)">SUM</text>
<text transform="translate(236.48 201.90) scale(0.6402 0.6957)">1.5</text>
<text transform="translate(199.53 379.30) scale(0.6467 0.6957)">1.25</text>
<text transform="translate(196.68 731.70) scale(0.6559 0.6957)">0.75</text>
<text transform="translate(232.98 909.90) scale(0.6542 0.6957)">0.5</text>
<text transform="translate(196.68 1087.00) scale(0.6559 0.6957)">0.25</text>
<text transform="translate(287.83 1265.30) scale(0.6667 0.6957)">0</text>
<text transform="translate(338.54 1340.00) scale(0.6660 0.6957)">36</text>
<text transform="translate(547.84 1340.00) scale(0.6660 0.6957)">38</text>
<text transform="translate(755.98 1340.00) scale(0.6610 0.6957)">40</text>
<text transform="translate(965.22 1340.00) scale(0.6385 0.6957)">42</text>
<text transform="translate(1174.62 1340.00) scale(0.6377 0.6957)">44</text>
<text transform="translate(1383.38 1340.00) scale(0.6610 0.6957)">46</text>
<text transform="translate(1590.09 1340.00) scale(0.6552 0.6957)">48</text>
<text transform="translate(1797.43 1340.00) scale(0.6680 0.6957)">50</text>
<text transform="translate(875.66 1452.20) scale(0.6428 0.7225)">Frequency (Hz)</text>
<text transform="translate(1491.38 660.90) scale(0.6457 0.6914)">power limit</text>
<text transform="translate(839.32 839.80) scale(0.6849 0.7201)">B</text>
<text transform="translate(221.23 99.3) scale(0.6584 0.6957)">PEC <tspan x="231.9">1</tspan></text>
<text transform="translate(664.13 99.3) scale(0.6584 0.6957)">PEC <tspan x="225.2">2</tspan></text>
<text transform="translate(1106.53 99.3) scale(0.6584 0.6957)">PEC <tspan x="227.6">3</tspan></text>
<text transform="translate(290.73 556.8) scale(0.6550 0.6957)">1</text>
<text transform="translate(76.7 897.16) rotate(-90) scale(0.6569 0.7122)">Power (mW)</text>
</g>
<path d="M377.5 92.8H390.8V100.5H377.5ZM396.2 92.8H408.5V100.5H396.2ZM240.5 195.8H252.8V203.5H240.5ZM258.2 195.8H270.5V203.5H258.2ZM203.5 372.8H215.8V380.5H203.5ZM221.2 372.8H233.5V380.5H221.2ZM294.5 550.8H307.8V558.5H294.5ZM313.2 550.8H325.5V558.5H313.2Z" fill="#fff"/>
</svg>
</body></html>
